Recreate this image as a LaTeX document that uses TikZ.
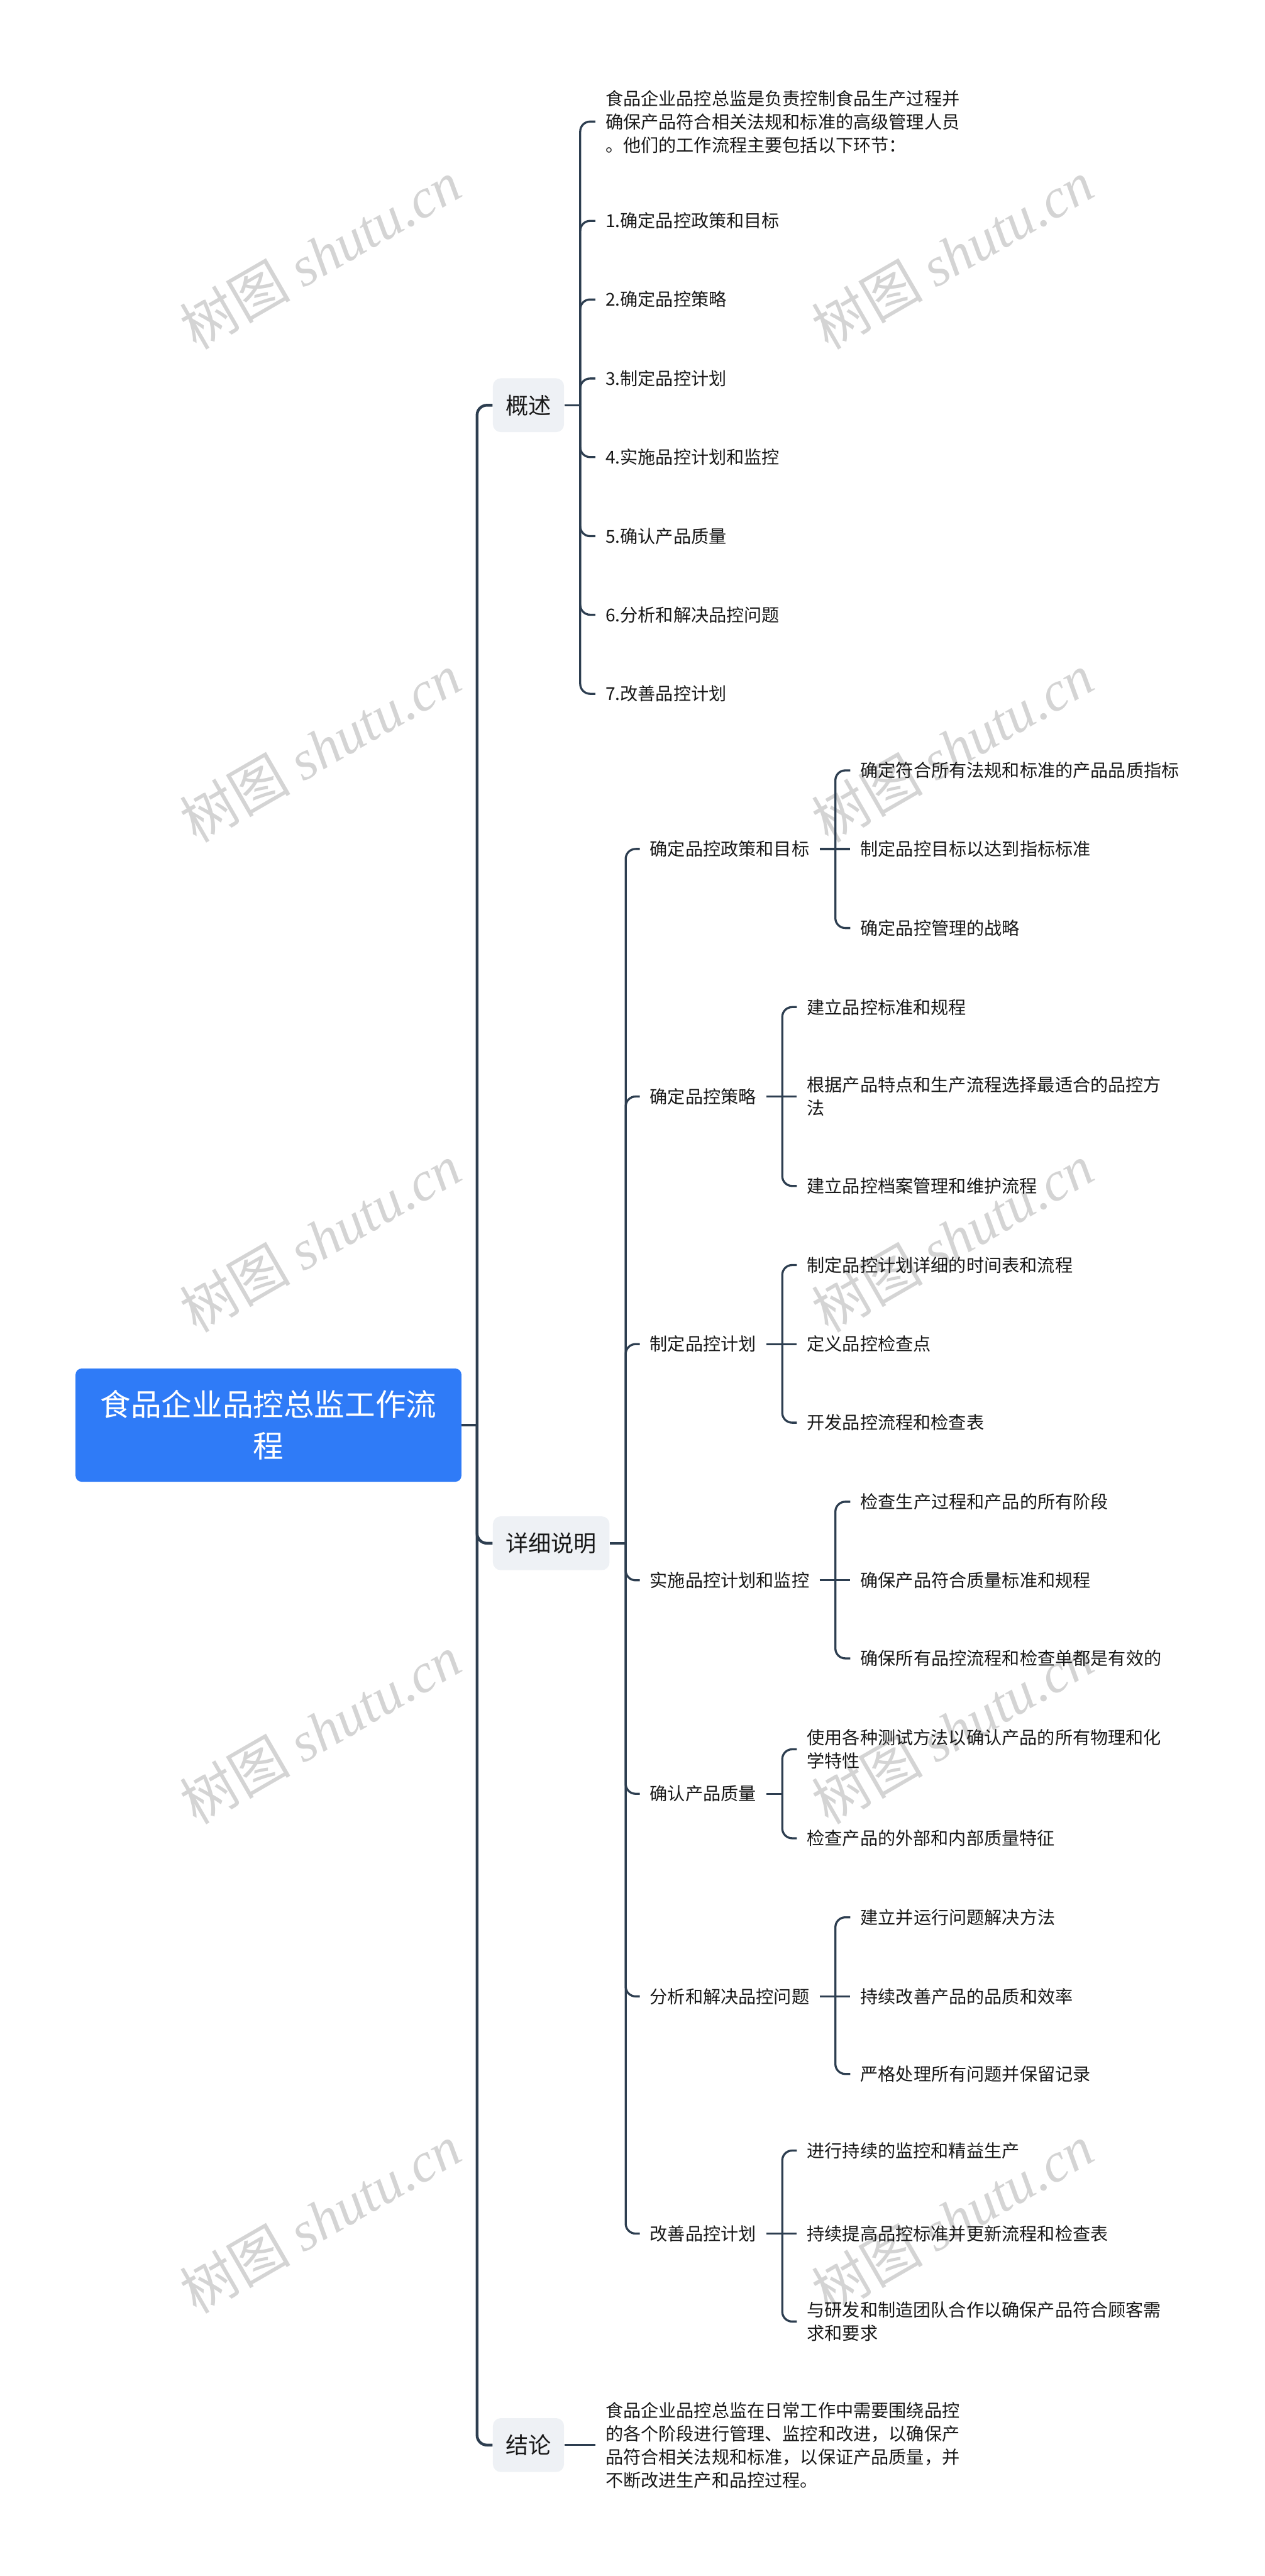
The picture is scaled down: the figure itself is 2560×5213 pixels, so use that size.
\documentclass[tikz,border=0pt]{standalone}
\usepackage{fontspec}
\setmainfont{Noto Sans CJK SC}
\newfontfamily\wmfont{Liberation Serif}
\usepackage{tikz}
\definecolor{rootblue}{RGB}{47,123,247}
\definecolor{branchgrey}{RGB}{238,241,245}
\definecolor{linkslate}{RGB}{45,62,80}
\definecolor{ink}{RGB}{25,25,25}
\definecolor{wmgrey}{RGB}{212,212,212}

\tikzset{
  rootbox/.style={fill=rootblue, rounded corners=1.2mm, minimum width=78.1mm,
    minimum height=22.9mm, align=center, text=white,
    font=\fontsize{17.6pt}{23.9pt}\selectfont},
  mainbox/.style={fill=branchgrey, rounded corners=1.6mm, minimum height=10.9mm,
    inner xsep=2.6mm, anchor=west, text=ink, font=\fontsize{13.1pt}{16pt}\selectfont},
  leaf/.style={anchor=west, inner xsep=2mm, inner ysep=0.5mm, align=left, text=ink,
    font=\fontsize{10.2pt}{13.4pt}\selectfont},
  trunk/.style={draw=linkslate, line width=1.6pt, rounded corners=2mm},
  link/.style={draw=linkslate, line width=1.2pt, rounded corners=2mm},
  watermark/.style={text=wmgrey, rotate=30, font=\fontsize{32pt}{32pt}\selectfont}
}

\begin{document}
\begin{tikzpicture}[x=0.1mm, y=-0.1mm]
  \useasboundingbox (0,0) rectangle (2560,5213);

  % watermarks
  \foreach \wy in {515,1513,2505,3500,4490}
    \foreach \wx in {648,1928}
      \node[watermark] (wm\wx\wy) at (\wx,\wy) {树图 {\wmfont\itshape shutu.cn}};

  % root and main branches
  \node[rootbox] (root) at (543.5,2884) {食品企业品控总监工作流\\程};
  \node[mainbox] (gaishu) at (997,820) {概述};
  \node[mainbox] (xiangxi) at (997,3123) {详细说明};
  \node[mainbox] (jielun) at (997,4948) {结论};

  \draw[trunk] (root.east) -- ++(3.1mm,0) coordinate (rootj);
  \foreach \m in {gaishu,xiangxi,jielun}
    \draw[trunk] (rootj) |- (\m.west);

  % overview
  \node[leaf] (ov0) at (1205,246) {食品企业品控总监是负责控制食品生产过程并\\确保产品符合相关法规和标准的高级管理人员\\。他们的工作流程主要包括以下环节：};
  \foreach \i/\y/\txt in {1/447/1.确定品控政策和目标, 2/606/2.确定品控策略,
      3/766/3.制定品控计划, 4/925/4.实施品控计划和监控, 5/1085/5.确认产品质量,
      6/1244/6.分析和解决品控问题, 7/1404/7.改善品控计划}
    \node[leaf] (ov\i) at (1205,\y) {\txt};
  \draw[link] (gaishu.east) -- ++(3.2mm,0) coordinate (ovj);
  \foreach \i in {0,...,7}
    \draw[link] (ovj) |- (ov\i.west);

  % details
  \node[leaf] (zhengce) at (1295,1718) {确定品控政策和目标};
  \node[leaf] (celue) at (1295,2219) {确定品控策略};
  \node[leaf] (jihua) at (1295,2720) {制定品控计划};
  \node[leaf] (shishi) at (1295,3198) {实施品控计划和监控};
  \node[leaf] (zhiliang) at (1295,3630) {确认产品质量};
  \node[leaf] (wenti) at (1295,4040) {分析和解决品控问题};
  \node[leaf] (gaishan) at (1295,4520) {改善品控计划};
  \draw[link] (xiangxi.east) -- ++(3.2mm,0) coordinate (xxj);
  \foreach \m in {zhengce,celue,jihua,shishi,zhiliang,wenti,gaishan}
    \draw[link] (xxj) |- (\m.west);

  \node[leaf] (zc1) at (1721,1559) {确定符合所有法规和标准的产品品质指标};
  \node[leaf] (zc2) at (1721,1718) {制定品控目标以达到指标标准};
  \node[leaf] (zc3) at (1721,1878) {确定品控管理的战略};
  \draw[link] (zhengce.east) -- ++(3.2mm,0) coordinate (zcj) -- (zc2.west);
  \foreach \c in {zc1,zc3} \draw[link] (zcj) |- (\c.west);

  \node[leaf] (cl1) at (1613,2038) {建立品控标准和规程};
  \node[leaf] (cl2) at (1613,2219) {根据产品特点和生产流程选择最适合的品控方\\法};
  \node[leaf] (cl3) at (1613,2400) {建立品控档案管理和维护流程};
  \draw[link] (celue.east) -- ++(3.2mm,0) coordinate (clj) -- (cl2.west);
  \foreach \c in {cl1,cl3} \draw[link] (clj) |- (\c.west);

  \node[leaf] (jh1) at (1613,2560) {制定品控计划详细的时间表和流程};
  \node[leaf] (jh2) at (1613,2720) {定义品控检查点};
  \node[leaf] (jh3) at (1613,2879) {开发品控流程和检查表};
  \draw[link] (jihua.east) -- ++(3.2mm,0) coordinate (jhj) -- (jh2.west);
  \foreach \c in {jh1,jh3} \draw[link] (jhj) |- (\c.west);

  \node[leaf] (ss1) at (1721,3039) {检查生产过程和产品的所有阶段};
  \node[leaf] (ss2) at (1721,3198) {确保产品符合质量标准和规程};
  \node[leaf] (ss3) at (1721,3356) {确保所有品控流程和检查单都是有效的};
  \draw[link] (shishi.east) -- ++(3.2mm,0) coordinate (ssj) -- (ss2.west);
  \foreach \c in {ss1,ss3} \draw[link] (ssj) |- (\c.west);

  \node[leaf] (zl1) at (1613,3540) {使用各种测试方法以确认产品的所有物理和化\\学特性};
  \node[leaf] (zl2) at (1613,3720) {检查产品的外部和内部质量特征};
  \draw[link] (zhiliang.east) -- ++(3.2mm,0) coordinate (zlj);
  \foreach \c in {zl1,zl2} \draw[link] (zlj) |- (\c.west);

  \node[leaf] (wt1) at (1721,3880) {建立并运行问题解决方法};
  \node[leaf] (wt2) at (1721,4040) {持续改善产品的品质和效率};
  \node[leaf] (wt3) at (1721,4197) {严格处理所有问题并保留记录};
  \draw[link] (wenti.east) -- ++(3.2mm,0) coordinate (wtj) -- (wt2.west);
  \foreach \c in {wt1,wt3} \draw[link] (wtj) |- (\c.west);

  \node[leaf] (gs1) at (1613,4352) {进行持续的监控和精益生产};
  \node[leaf] (gs2) at (1613,4520) {持续提高品控标准并更新流程和检查表};
  \node[leaf] (gs3) at (1613,4698) {与研发和制造团队合作以确保产品符合顾客需\\求和要求};
  \draw[link] (gaishan.east) -- ++(3.2mm,0) coordinate (gsj) -- (gs2.west);
  \foreach \c in {gs1,gs3} \draw[link] (gsj) |- (\c.west);

  % conclusion
  \node[leaf] (jl1) at (1205,4948) {食品企业品控总监在日常工作中需要围绕品控\\的各个阶段进行管理、监控和改进，以确保产\\品符合相关法规和标准，以保证产品质量，并\\不断改进生产和品控过程。};
  \draw[link] (jielun.east) -- (jl1.west);
\end{tikzpicture}
\end{document}
